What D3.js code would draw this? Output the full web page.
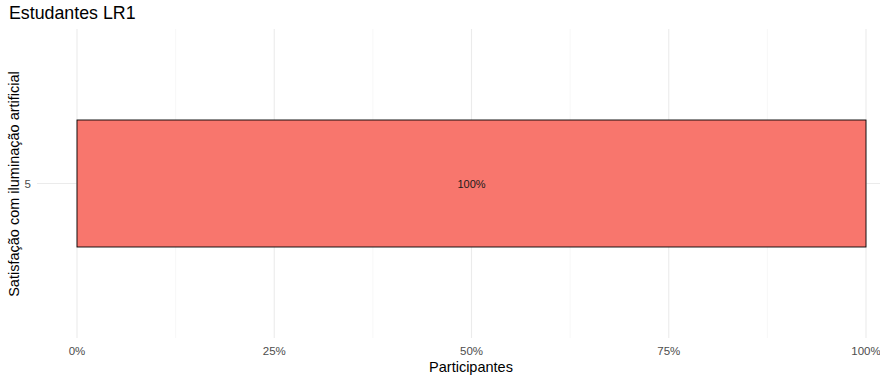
<!DOCTYPE html>
<meta charset="utf-8">
<head>
<style>
  body { margin: 0; background: #fff; }
  text { font-family: "Liberation Sans", Arial, sans-serif; }
</style>
</head>
<body>
<script src="https://d3js.org/d3.v7.min.js"></script>
<script>

// data
var categories = ["5"];
var shares = [1.0];
var barLabels = ["100%"];
var xTicks = [0, 0.25, 0.5, 0.75, 1];

var width = 880,
    height = 378;

var svg = d3.select("body").append("svg")
    .attr("width", width)
    .attr("height", height);

// panel area
var panel = {left: 37, right: 905, top: 29, bottom: 338};

var x = d3.scaleLinear()
    .domain([0, 1])
    .range([77, 866]);

var y = d3.scaleBand()
    .domain(categories)
    .range([120 - 7, 247 + 7])
    .paddingInner(0)
    .paddingOuter(0.05);

// minor grid
var minor = d3.range(0, 4).map(function(i){ return 0.125 + i * 0.25; });
svg.append("g").selectAll("line")
  .data(minor).enter().append("line")
    .attr("x1", d => x(d)).attr("x2", d => x(d))
    .attr("y1", panel.top).attr("y2", panel.bottom)
    .attr("stroke", "#f2f2f2").attr("stroke-width", 0.6);

// major grid
svg.append("g").selectAll("line")
  .data(xTicks).enter().append("line")
    .attr("x1", d => x(d)).attr("x2", d => x(d))
    .attr("y1", panel.top).attr("y2", panel.bottom)
    .attr("stroke", "#ebebeb").attr("stroke-width", 1.1);

svg.append("g").selectAll("line")
  .data(categories).enter().append("line")
    .attr("x1", panel.left).attr("x2", panel.right)
    .attr("y1", d => y(d) + y.bandwidth() / 2)
    .attr("y2", d => y(d) + y.bandwidth() / 2)
    .attr("stroke", "#ebebeb").attr("stroke-width", 1.1);

// bars
svg.append("g").selectAll("rect")
  .data(categories).enter().append("rect")
    .attr("x", x(0))
    .attr("y", (d, i) => y(d) + (y.bandwidth() - 127) / 2)
    .attr("width", (d, i) => x(shares[i]) - x(0))
    .attr("height", 127)
    .attr("fill", "#F8766D")
    .attr("stroke", "#000")
    .attr("stroke-width", 0.9);

svg.append("g").selectAll("text")
  .data(categories).enter().append("text")
    .attr("x", (d, i) => x(shares[i] / 2))
    .attr("y", d => y(d) + y.bandwidth() / 2 + 4)
    .attr("text-anchor", "middle")
    .style("font-size", "11px")
    .attr("fill", "#1a1a1a")
    .text((d, i) => barLabels[i]);

// x axis labels
svg.append("g").selectAll("text")
  .data(xTicks).enter().append("text")
    .attr("x", d => x(d))
    .attr("y", 355)
    .attr("text-anchor", "middle")
    .style("font-size", "11.5px")
    .attr("fill", "#4d4d4d")
    .text(d => d3.format(".0%")(d));

// y axis labels
svg.append("g").selectAll("text")
  .data(categories).enter().append("text")
    .attr("x", 31)
    .attr("y", d => y(d) + y.bandwidth() / 2 + 4)
    .attr("text-anchor", "end")
    .style("font-size", "11.5px")
    .attr("fill", "#4d4d4d")
    .text(d => d);

// titles
svg.append("text")
    .attr("x", 471)
    .attr("y", 372)
    .attr("text-anchor", "middle")
    .style("font-size", "14.5px")
    .attr("fill", "#000")
    .text("Participantes");

svg.append("text")
    .attr("transform", "translate(19,184) rotate(-90)")
    .attr("text-anchor", "middle")
    .style("font-size", "14.5px")
    .attr("fill", "#000")
    .text("Satisfação com iluminação artificial");

svg.append("text")
    .attr("x", 9)
    .attr("y", 19)
    .style("font-size", "17.8px")
    .attr("fill", "#000")
    .text("Estudantes LR1");

</script>
</body>
